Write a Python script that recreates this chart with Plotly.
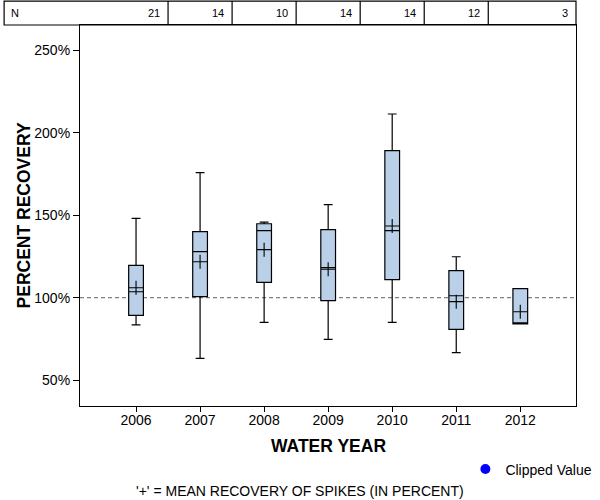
import plotly.graph_objects as go

# ---- data ----
years = [2006, 2007, 2008, 2009, 2010, 2011, 2012]
n_counts = [21, 14, 10, 14, 14, 12, 3]
q1 = [89.3, 100.6, 109.3, 98.2, 110.9, 80.8, 84.2]
median = [103.6, 127.9, 140.6, 118.2, 140.6, 101.2, 84.2]
q3 = [119.6, 140.0, 144.8, 141.2, 189.1, 116.4, 105.5]
low_whisker = [83.6, 63.2, 85.0, 74.7, 85.0, 66.7, 84.2]
high_whisker = [148.1, 175.8, 145.8, 156.4, 211.3, 124.8, 105.5]
means = [106.0, 121.8, 129.1, 117.2, 143.4, 97.6, 91.5]
y_ticks = [50, 100, 150, 200, 250]
y_tick_labels = [f"{v}%" for v in y_ticks]
reference_line = 100

FONT = "Liberation Sans, Arial, sans-serif"
X_RANGE = [2005.125, 2012.87]
Y_RANGE = [34.4, 265.2]
TABLE_TOP = 1 + 24 / 381.5

fig = go.Figure()

fig.add_trace(go.Box(
    x=years, q1=q1, median=median, q3=q3,
    lowerfence=low_whisker, upperfence=high_whisker,
    width=0.23, whiskerwidth=0.6,
    fillcolor="#b9d0e8", line=dict(color="black", width=1.2),
    boxpoints=False, showlegend=False, hoverinfo="skip",
))

fig.add_trace(go.Scatter(
    x=years, y=means, mode="markers",
    marker=dict(symbol="cross-thin", size=10, line=dict(color="black", width=1.1)),
    showlegend=False, hoverinfo="skip",
))

# legend entry for clipped values
fig.add_trace(go.Scatter(
    x=[None], y=[None], mode="markers", name="Clipped Value",
    marker=dict(symbol="circle", size=10, color="#0000ff"),
))

# 100% dashed reference line
fig.add_shape(type="line", xref="paper", x0=0, x1=1, y0=reference_line, y1=reference_line,
              line=dict(color="#808080", width=1.2, dash="4px,3px"), layer="below")

# N table
fig.add_shape(type="rect", xref="paper", yref="paper", x0=-0.153, x1=1, y0=1, y1=TABLE_TOP,
              line=dict(color="black", width=1.2))
cell_right = [y + 0.5 for y in years[:-1]] + [X_RANGE[1]]
for xr in cell_right[:-1]:
    fig.add_shape(type="line", xref="x", yref="paper", x0=xr, x1=xr, y0=1, y1=TABLE_TOP,
                  line=dict(color="black", width=1.2))
fig.add_annotation(text="N", xref="paper", yref="paper", x=-0.143, y=(1 + TABLE_TOP) / 2,
                   xanchor="left", yanchor="middle", showarrow=False,
                   font=dict(family=FONT, size=11, color="black"))
for xr, n in zip(cell_right, n_counts):
    fig.add_annotation(text=str(n), xref="x", yref="paper", x=xr, y=(1 + TABLE_TOP) / 2,
                       xanchor="right", yanchor="middle", xshift=-6, showarrow=False,
                       font=dict(family=FONT, size=11, color="black"))

# axis titles and footnote
fig.add_annotation(text="<b>PERCENT RECOVERY</b>", xref="paper", yref="paper",
                   x=-0.113, y=0.5, textangle=-90, showarrow=False,
                   xanchor="center", yanchor="middle",
                   font=dict(family=FONT, size=17.5, color="black"))
fig.add_annotation(text="<b>WATER YEAR</b>", xref="paper", yref="paper",
                   x=0.5, y=-0.104, showarrow=False, xanchor="center", yanchor="middle",
                   font=dict(family=FONT, size=17.5, color="black"))
fig.add_annotation(text="'+' = MEAN RECOVERY OF SPIKES (IN PERCENT)", xref="paper", yref="paper",
                   x=0.4435, y=-0.224, showarrow=False, xanchor="center", yanchor="middle",
                   font=dict(family=FONT, size=14, color="black"))

fig.update_layout(
    width=600, height=500,
    margin=dict(l=80, r=24, t=25, b=93.5, pad=0, autoexpand=False),
    paper_bgcolor="white", plot_bgcolor="white",
    font=dict(family=FONT, size=14, color="black"),
    legend=dict(x=0.777, y=-0.1245, xanchor="left", yanchor="top",
                font=dict(family=FONT, size=14, color="black"),
                bgcolor="rgba(0,0,0,0)", borderwidth=0),
    xaxis=dict(range=X_RANGE, tickvals=years, ticks="outside", ticklen=5,
               ticklabelstandoff=-4,
               tickcolor="black", showline=True, linecolor="black", linewidth=1.2,
               mirror=True, showgrid=False, zeroline=False,
               tickfont=dict(family=FONT, size=14, color="black")),
    yaxis=dict(range=Y_RANGE, tickvals=y_ticks, ticktext=y_tick_labels, ticks="outside", ticklen=6,
               tickcolor="black", showline=True, linecolor="black", linewidth=1.2,
               mirror=True, showgrid=False, zeroline=False,
               tickfont=dict(family=FONT, size=14, color="black")),
)

fig.write_html("out.html", config={"displayModeBar": False},
               post_script="document.body.style.margin='0px';document.body.style.overflow='hidden';")
